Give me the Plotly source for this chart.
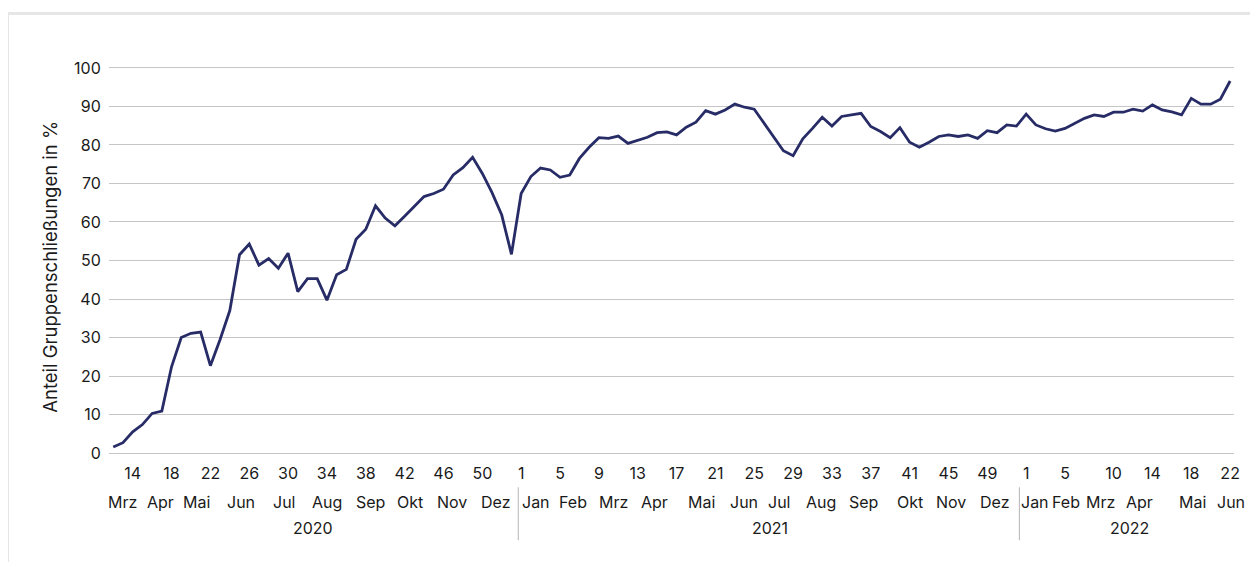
import plotly.graph_objects as go

# ---- data -------------------------------------------------------------
years = ["2020", "2021", "2022"]
weeks_2020 = list(range(12, 54))
weeks_2021 = list(range(1, 53))
weeks_2022 = list(range(1, 23))

values_2020 = [1.6, 2.7, 5.5, 7.4, 10.3, 10.9, 22.4, 30.0, 31.1, 31.4,
               22.7, 29.5, 37.0, 51.5, 54.3, 48.8, 50.5, 48.0, 51.9, 41.9,
               45.3, 45.3, 39.7, 46.3, 47.7, 55.5, 58.1, 64.2, 61.0, 59.0,
               61.5, 64.0, 66.6, 67.4, 68.5, 72.2, 74.1, 76.8, 72.6, 67.6,
               61.8, 51.6]
values_2021 = [67.4, 71.8, 74.0, 73.5, 71.6, 72.2, 76.5, 79.4, 81.9, 81.7,
               82.3, 80.4, 81.1, 82.0, 83.2, 83.4, 82.6, 84.6, 85.9, 88.9,
               88.0, 89.1, 90.6, 89.8, 89.3, 85.8, 82.0, 78.5, 77.2, 81.6,
               84.3, 87.2, 84.9, 87.4, 87.8, 88.2, 84.8, 83.5, 81.9, 84.5,
               80.7, 79.4, 80.7, 82.2, 82.6, 82.2, 82.6, 81.7, 83.7, 83.2,
               85.2, 84.9]
values_2022 = [88.0, 85.2, 84.2, 83.6, 84.3, 85.6, 86.9, 87.8, 87.4, 88.5,
               88.5, 89.3, 88.8, 90.4, 89.1, 88.6, 87.8, 92.1, 90.6, 90.6,
               91.9, 96.6]

shown_weeks_2020 = [14, 18, 22, 26, 30, 34, 38, 42, 46, 50]
shown_weeks_2021 = [1, 5, 9, 13, 17, 21, 25, 29, 33, 37, 41, 45, 49]
shown_weeks_2022 = [1, 5, 10, 14, 18, 22]

months_2020 = ["Mrz", "Apr", "Mai", "Jun", "Jul", "Aug", "Sep", "Okt", "Nov", "Dez"]
months_2021 = ["Jan", "Feb", "Mrz", "Apr", "Mai", "Jun", "Jul", "Aug", "Sep", "Okt", "Nov", "Dez"]
months_2022 = ["Jan", "Feb", "Mrz", "Apr", "Mai", "Jun"]

y_title = "Anteil Gruppenschließungen in %"

# ---- layout helpers (label positions in week-index units) -------------
month_pos_2020 = [0.9, 4.9, 8.6, 13.2, 17.6, 22.0, 26.5, 30.6, 34.9, 39.4]
month_pos_2021 = [43.5, 47.3, 51.5, 55.7, 60.6, 64.9, 68.5, 72.9, 77.2, 82.0, 86.3, 90.7]
month_pos_2022 = [94.9, 98.1, 101.7, 105.7, 111.1, 115.1]
year_pos = [20.6, 67.6, 104.6]
separator_pos = [41.7, 93.3]

# ---- build series ------------------------------------------------------
weeks = weeks_2020 + weeks_2021 + weeks_2022
values = values_2020 + values_2021 + values_2022
xidx = list(range(len(values)))

tickvals, ticktext = [], []
offset = 0
for wk_list, shown in [(weeks_2020, shown_weeks_2020),
                       (weeks_2021, shown_weeks_2021),
                       (weeks_2022, shown_weeks_2022)]:
    for j, w in enumerate(wk_list):
        if w in shown:
            tickvals.append(offset + j)
            ticktext.append(str(w))
    offset += len(wk_list)

FONT = "Inter"
FS = 16
TXT = "#1a1a1a"
LINE = "#272c66"

fig = go.Figure()
fig.add_trace(go.Scatter(
    x=xidx, y=values, mode="lines",
    line=dict(color=LINE, width=2.8),
    hoverinfo="skip", showlegend=False,
))

annotations = []
for labels, pos in [(months_2020, month_pos_2020),
                    (months_2021, month_pos_2021),
                    (months_2022, month_pos_2022)]:
    for lab, p in zip(labels, pos):
        annotations.append(dict(x=p, y=-0.121, xref="x", yref="paper",
                                text=lab, showarrow=False,
                                xanchor="center", yanchor="middle",
                                font=dict(family=FONT, size=FS, color=TXT)))
for lab, p in zip(years, year_pos):
    annotations.append(dict(x=p, y=-0.187, xref="x", yref="paper",
                            text=lab, showarrow=False,
                            xanchor="center", yanchor="middle",
                            font=dict(family=FONT, size=FS, color=TXT)))
annotations.append(dict(x=-0.0524, y=0.484, xref="paper", yref="paper",
                        text=y_title, showarrow=False, textangle=-90,
                        xanchor="center", yanchor="middle",
                        font=dict(family=FONT, size=18.5, color=TXT)))

shapes = []
for p in separator_pos:
    shapes.append(dict(type="line", xref="x", yref="paper",
                       x0=p, x1=p, y0=-0.083, y1=-0.219,
                       line=dict(color="#b4b4b4", width=1)))
# light frame around the chart
shapes.append(dict(type="rect", xref="paper", yref="paper",
                   x0=-0.0902, x1=1.2, y0=-0.5, y1=1.135,
                   line=dict(color="#e6e6e6", width=3), layer="below"))

# page body has an 8px default margin -> figure is 8px smaller, shifted
fig.update_layout(
    width=1250, height=554,
    margin=dict(l=101, r=24, t=58, b=107),
    paper_bgcolor="white", plot_bgcolor="white",
    font=dict(family=FONT, size=FS, color=TXT),
    annotations=annotations, shapes=shapes,
    showlegend=False,
)
fig.update_xaxes(
    range=[-0.44, 115.4], tickvals=tickvals, ticktext=ticktext,
    showgrid=False, zeroline=False, showline=False,
    ticks="outside", ticklen=4, tickcolor="rgba(0,0,0,0)",
    tickfont=dict(family=FONT, size=FS, color=TXT),
)
fig.update_yaxes(
    range=[-0.5, 100.5], tickvals=list(range(0, 101, 10)),
    showgrid=True, gridcolor="#c6c6c6", gridwidth=1,
    zeroline=False, showline=False,
    ticks="outside", ticklen=4, tickcolor="rgba(0,0,0,0)",
    tickfont=dict(family=FONT, size=FS, color=TXT),
)

fig.write_html("out.html")
